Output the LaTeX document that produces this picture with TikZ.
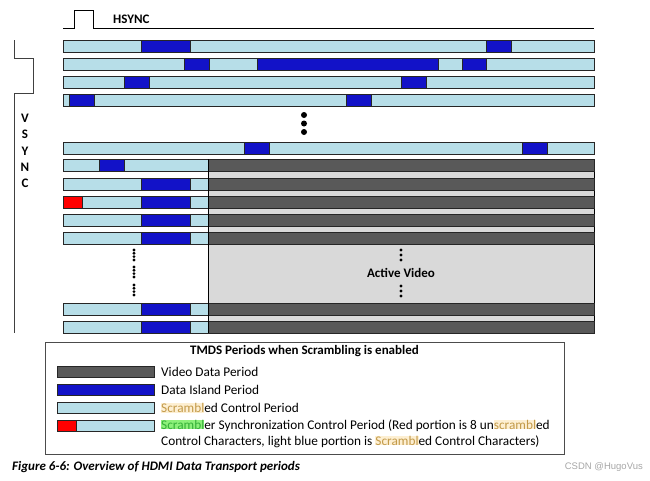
\documentclass[tikz,border=0pt]{standalone}
\usepackage{fontspec}
\setmainfont{Carlito}
\newfontfamily\marcafont{Liberation Sans}
\usetikzlibrary{positioning}
\definecolor{realceL}{HTML}{FDEFD2}
\definecolor{textoL}{HTML}{C39A4A}
\definecolor{realceV}{HTML}{8CF07A}
\definecolor{textoV}{HTML}{35B03A}
\newcommand{\realceLaranja}[1]{{\setlength{\fboxsep}{0pt}\colorbox{realceL}{\textcolor{textoL}{#1}}}}
\newcommand{\realceVerde}[1]{{\setlength{\fboxsep}{0pt}\colorbox{realceV}{\textcolor{textoV}{#1}}}}

\begin{document}
\begin{tikzpicture}[x=1pt, y=-1pt,
  ctrl/.style={fill=controle, draw=black!85, line width=0.9pt},
  ilhabox/.style={fill=ilha, draw=black!85, line width=0.9pt},
  videobox/.style={fill=video, draw=black!85, line width=0.9pt},
  rotulo/.style={font=\fontsize{13}{15}\selectfont\bfseries, inner sep=0pt},
  legenda/.style={font=\fontsize{13.3}{15}\selectfont, inner sep=0pt, anchor=west}]
% --- CORES DO DIAGRAMA ---
\definecolor{controle}{HTML}{B7DEE8}
\definecolor{ilha}{HTML}{1212C8}
\definecolor{video}{HTML}{595959}
\definecolor{ativo}{HTML}{D9D9D9}
\definecolor{vermelho}{HTML}{FF0000}

\useasboundingbox (0,0) rectangle (650,480);

% LAYER 1: HSYNC
\draw[line width=0.9pt] (63,28) -- (74,28) -- (74,10) -- (93,10) -- (93,28) -- (594,28);
\node[rotulo, anchor=west] (hsync) at (113,19) {HSYNC};

% LAYER 2: VSYNC
\draw[line width=1pt, color=black!75] (14,40) -- (14,58) -- (33,58) -- (33,93) -- (14,93) -- (14,333);
\node[rotulo] (v1) at (25,118) {V};
\node[rotulo] (v2) at (25,134.5) {S};
\node[rotulo] (v3) at (25,151) {Y};
\node[rotulo] (v4) at (25,167) {N};
\node[rotulo] (v5) at (25,183) {C};

% LAYER 3: Linhas de blanking vertical
\draw[ctrl] (63,40) rectangle (594,52);
\draw[ilhabox] (141,40) rectangle (190,52);
\draw[ilhabox] (486,40) rectangle (511,52);

\draw[ctrl] (63,58) rectangle (594,70);
\draw[ilhabox] (184,58) rectangle (209,70);
\draw[ilhabox] (257,58) rectangle (438,70);
\draw[ilhabox] (462,58) rectangle (486,70);

\draw[ctrl] (63,76) rectangle (594,88);
\draw[ilhabox] (124,76) rectangle (149,88);
\draw[ilhabox] (401,76) rectangle (426,88);

\draw[ctrl] (63,94) rectangle (594,106);
\draw[ilhabox] (69,94) rectangle (94,106);
\draw[ilhabox] (346,94) rectangle (371,106);

\foreach \y in {115,123.5,132} \fill (304,\y) circle (3);

\draw[ctrl] (63,142) rectangle (594,154);
\draw[ilhabox] (244,142) rectangle (269,154);
\draw[ilhabox] (522,142) rectangle (547,154);

% LAYER 4: Video ativo
\draw[fill=ativo, line width=0.9pt] (208,159) rectangle (594,333);

\draw[ctrl] (63,159) rectangle (208,171);
\draw[ilhabox] (99,159) rectangle (124,171);
\draw[videobox] (208,159) rectangle (594,171);

\foreach \y in {178,196,214,232,303,321} {
  \draw[ctrl] (63,\y) rectangle (208,\y+12);
  \draw[ilhabox] (141,\y) rectangle (190,\y+12);
  \draw[videobox] (208,\y) rectangle (594,\y+12);
}
\draw[fill=vermelho, draw=black!85, line width=0.9pt] (63,196) rectangle (82,208);
\draw[line width=0.9pt] (208,159) -- (208,333);

\foreach \y in {250,253.3,256.6,260, 267,270.3,273.6,277, 285,288.3,291.6,295} \fill (134,\y) circle (1.6);
\foreach \y in {250,255,260, 286,291,296} \fill (401,\y) circle (1.7);
\node[rotulo] (ativo) at (401,273) {Active Video};

% LAYER 5: Legenda
\draw[draw=black!70, line width=0.9pt] (45,342) rectangle (564,454);
\node[rotulo] (titulo) at (304.5,351) {TMDS Periods when Scrambling is enabled};

\draw[videobox] (57,366) rectangle (154,377);
\draw[ilhabox] (57,384) rectangle (154,395);
\draw[ctrl] (57,402) rectangle (154,413);
\draw[ctrl] (57,420) rectangle (154,431);
\draw[fill=vermelho, draw=black!85, line width=0.9pt] (57,420) rectangle (76,431);

\node[legenda] (leg1) at (161,372) {Video Data Period};
\node[legenda] (leg2) at (161,390) {Data Island Period};
\node[legenda] (leg3) at (161,408) {\realceLaranja{Scrambl}ed Control Period};
\node[legenda] (leg4) at (161,425.5) {\realceVerde{Scrambl}er Synchronization Control Period (Red portion is 8 un\realceLaranja{scrambl}ed};
\node[legenda] (leg5) at (161,441.5) {Control Characters, light blue portion is \realceLaranja{Scrambl}ed Control Characters)};

% LAYER 6: Legenda da figura
\node[font=\fontsize{13}{15}\selectfont\bfseries\itshape, inner sep=0pt, anchor=west] (figura) at (12,467) {Figure 6-6: Overview of HDMI Data Transport periods};
\node[font=\marcafont\fontsize{9.5}{11}\selectfont, text=black!35, inner sep=0pt, anchor=east] (marca) at (643,467) {CSDN @HugoVus};
\end{tikzpicture}
\end{document}
